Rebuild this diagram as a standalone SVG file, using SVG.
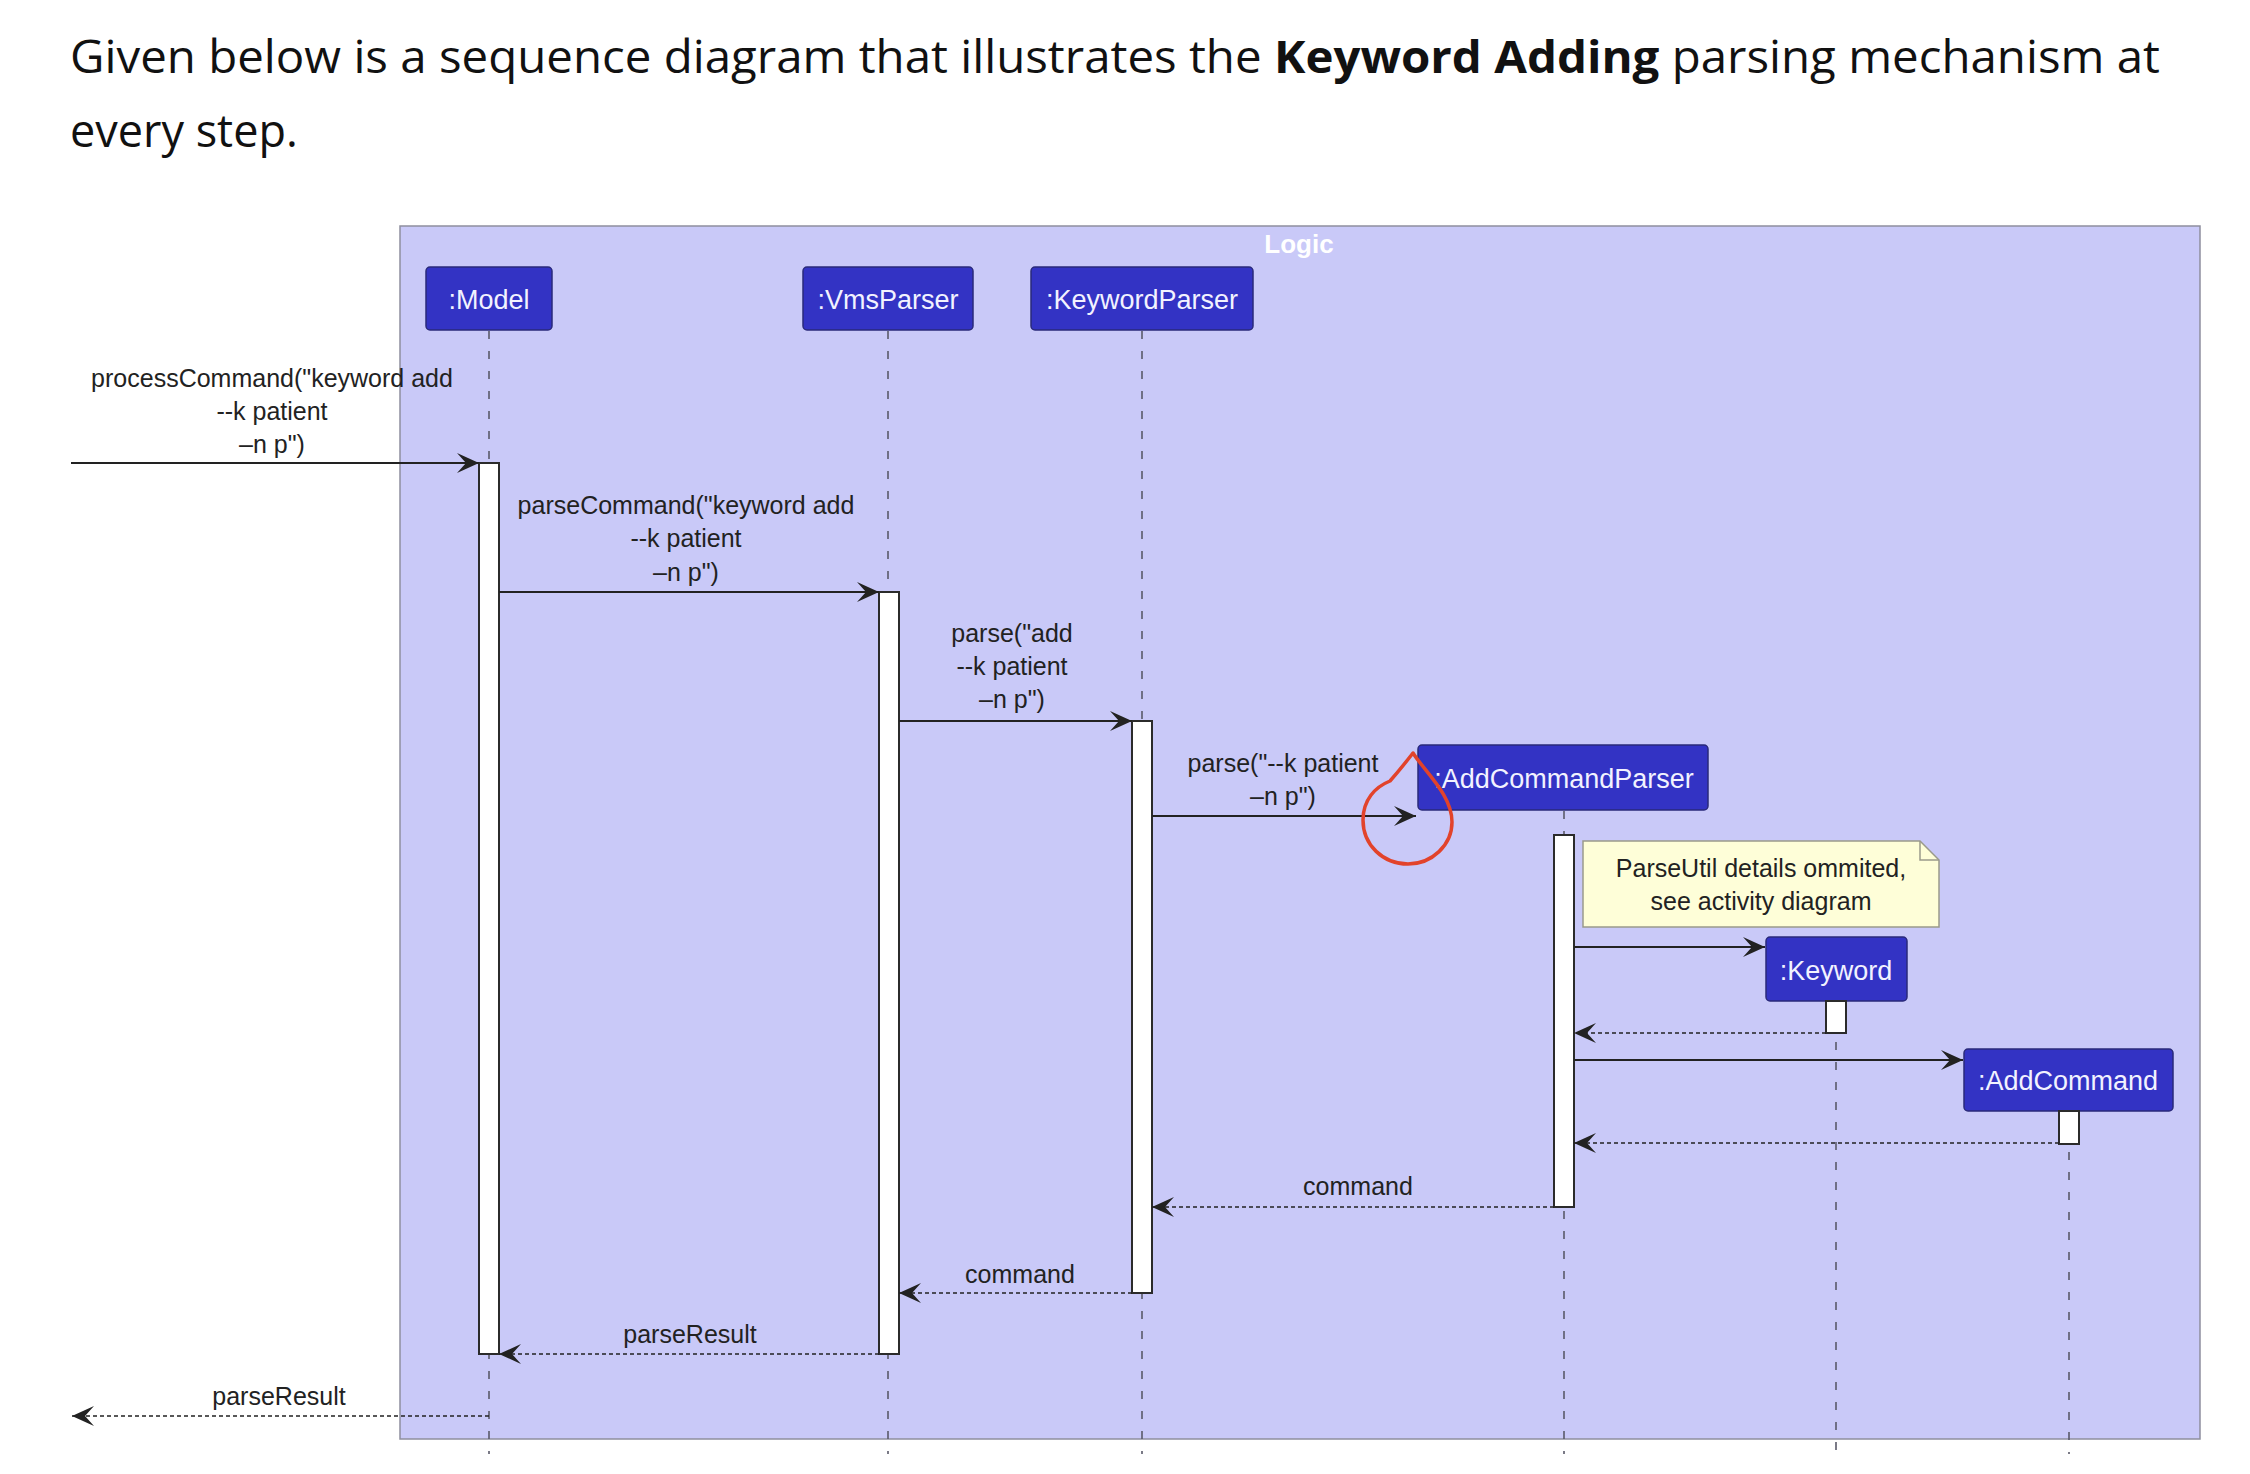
<svg xmlns="http://www.w3.org/2000/svg" width="2250" height="1474" viewBox="0 0 2250 1474">
<style>
.title{font-family:"Open Sans","Noto Sans","Liberation Sans",sans-serif;font-size:45px;fill:#111}
.frame{fill:#C9C9F8;stroke:#8E8E9E;stroke-width:1.5}
.frameTitle{font-family:"Liberation Sans",Arial,sans-serif;font-size:26px;font-weight:bold;fill:#FFFFFF;text-anchor:middle}
.pbox{fill:#3333C4;stroke:#2A2A7A;stroke-width:1.5}
.pname{font-family:"Liberation Sans",Arial,sans-serif;font-size:27px;fill:#F2F2FF;text-anchor:middle}
.life{stroke:#5A5A6A;stroke-width:1.6;stroke-dasharray:8 12;fill:none}
.act{fill:#FFFFFF;stroke:#2B2B2B;stroke-width:2}
.msg{stroke:#222;stroke-width:2;fill:none;marker-end:url(#ah)}
.ret{stroke:#222;stroke-width:1.6;stroke-dasharray:4 3;fill:none;marker-end:url(#ah)}
.lbl{font-family:"Liberation Sans",Arial,sans-serif;font-size:25px;fill:#222;text-anchor:middle}
.note{fill:#FEFED8;stroke:#9A9A8A;stroke-width:1.5}
.mark{fill:none;stroke:#E2432B;stroke-width:3.5;stroke-linejoin:round}
</style>
<defs>
<marker id="ah" markerUnits="userSpaceOnUse" viewBox="0 0 22 20" refX="22" refY="10" markerWidth="22" markerHeight="20" orient="auto">
<path d="M0,0 L22,10 L0,20 L9,10 Z" fill="#222" stroke="none"/>
</marker>
</defs>
<rect width="2250" height="1474" fill="#FFFFFF"/>
<g id="intro">
<text class="title" x="70" y="73" textLength="2090" lengthAdjust="spacingAndGlyphs">Given below is a sequence diagram that illustrates the <tspan font-weight="bold">Keyword Adding</tspan> parsing mechanism at</text>
<text class="title" x="70" y="147">every step.</text>
</g>
<g id="logic-frame">
<rect class="frame" x="400" y="226" width="1800" height="1213"/>
<text class="frameTitle" x="1299" y="253">Logic</text>
</g>
<g id="model">
<line class="life" x1="489" y1="331" x2="489" y2="1454"/>
<rect class="pbox" x="426" y="267" width="126" height="63" rx="4"/>
<text class="pname" x="489" y="309">:Model</text>
<rect class="act" x="479" y="463" width="20" height="891"/>
</g>
<g id="vmsparser">
<line class="life" x1="888" y1="331" x2="888" y2="1454"/>
<rect class="pbox" x="803" y="267" width="170" height="63" rx="4"/>
<text class="pname" x="888" y="309">:VmsParser</text>
<rect class="act" x="879" y="592" width="20" height="762"/>
</g>
<g id="keywordparser">
<line class="life" x1="1142" y1="331" x2="1142" y2="1454"/>
<rect class="pbox" x="1031" y="267" width="222" height="63" rx="4"/>
<text class="pname" x="1142" y="309">:KeywordParser</text>
<rect class="act" x="1132" y="721" width="20" height="572"/>
</g>
<g id="addcommandparser">
<line class="life" x1="1564" y1="811" x2="1564" y2="1454"/>
<rect class="pbox" x="1418" y="745" width="290" height="65" rx="4"/>
<text class="pname" x="1564" y="788">:AddCommandParser</text>
<rect class="act" x="1554" y="835" width="20" height="372"/>
</g>
<g id="keyword">
<line class="life" x1="1836" y1="1002" x2="1836" y2="1454"/>
<rect class="pbox" x="1766" y="937" width="141" height="64" rx="4"/>
<text class="pname" x="1836" y="980">:Keyword</text>
<rect class="act" x="1826" y="1001" width="20" height="32"/>
</g>
<g id="addcommand">
<line class="life" x1="2069" y1="1112" x2="2069" y2="1454"/>
<rect class="pbox" x="1964" y="1049" width="209" height="62" rx="4"/>
<text class="pname" x="2068" y="1090">:AddCommand</text>
<rect class="act" x="2059" y="1111" width="20" height="33"/>
</g>
<g id="note-parseutil">
<path class="note" d="M1583,841 L1920,841 L1939,860 L1939,927 L1583,927 Z"/>
<path d="M1920,841 L1920,860 L1939,860" fill="none" stroke="#9A9A8A" stroke-width="1.5"/>
<text class="lbl" x="1761" y="877">ParseUtil details ommited,</text>
<text class="lbl" x="1761" y="910">see activity diagram</text>
</g>
<g id="connectors">
<line class="msg" x1="71" y1="463" x2="479" y2="463"/>
<text class="lbl" x="272" y="387">processCommand("keyword add</text>
<text class="lbl" x="272" y="420">--k patient</text>
<text class="lbl" x="272" y="453">–n p")</text>
<line class="msg" x1="499" y1="592" x2="879" y2="592"/>
<text class="lbl" x="686" y="514">parseCommand("keyword add</text>
<text class="lbl" x="686" y="547">--k patient</text>
<text class="lbl" x="686" y="581">–n p")</text>
<line class="msg" x1="899" y1="721" x2="1132" y2="721"/>
<text class="lbl" x="1012" y="642">parse("add</text>
<text class="lbl" x="1012" y="675">--k patient</text>
<text class="lbl" x="1012" y="708">–n p")</text>
<line class="msg" x1="1152" y1="816" x2="1416" y2="816"/>
<text class="lbl" x="1283" y="772">parse("--k patient</text>
<text class="lbl" x="1283" y="805">–n p")</text>
<line class="msg" x1="1574" y1="947" x2="1765" y2="947"/>
<line class="ret" x1="1826" y1="1033" x2="1574" y2="1033"/>
<line class="msg" x1="1574" y1="1060" x2="1963" y2="1060"/>
<line class="ret" x1="2059" y1="1143" x2="1574" y2="1143"/>
<line class="ret" x1="1554" y1="1207" x2="1152" y2="1207"/>
<text class="lbl" x="1358" y="1195">command</text>
<line class="ret" x1="1132" y1="1293" x2="899" y2="1293"/>
<text class="lbl" x="1020" y="1283">command</text>
<line class="ret" x1="879" y1="1354" x2="499" y2="1354"/>
<text class="lbl" x="690" y="1343">parseResult</text>
<line class="ret" x1="489" y1="1416" x2="72" y2="1416"/>
<text class="lbl" x="279" y="1405">parseResult</text>
</g>
<g id="highlight">
<path class="mark" d="M1413,753 C1425,772 1452,795 1452,822 C1452,845 1432,864 1408,864 C1383,864 1363,845 1363,820 C1363,800 1375,787 1390,781 C1398,772 1406,762 1413,753 Z"/>
</g>
</svg>
